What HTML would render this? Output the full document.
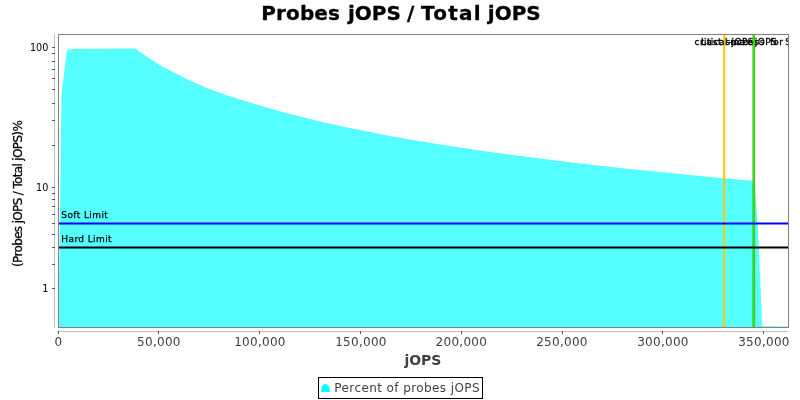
<!DOCTYPE html>
<html><head><meta charset="utf-8"><title>Probes jOPS / Total jOPS</title>
<style>html,body{margin:0;padding:0;background:#fff;}svg{display:block}</style></head>
<body>
<svg width="800" height="400" viewBox="0 0 800 400" font-family="'DejaVu Sans','Liberation Sans',sans-serif">
<rect x="0" y="0" width="800" height="400" fill="#fff"/>
<g font-size="20" font-weight="bold" fill="#000" stroke="#000" stroke-width="0.3"><text x="261.2" y="20" letter-spacing="0.15">Probes</text><text x="348.0" y="20" letter-spacing="0">jOPS</text><text x="407" y="20">/</text><text x="421" y="20" letter-spacing="1.25">Total</text><text x="487.8" y="20" letter-spacing="0">jOPS</text></g>
<clipPath id="cp"><rect x="58.5" y="34.5" width="730.0" height="293.0"/></clipPath>
<g clip-path="url(#cp)">
<polygon points="58.50,327.50 61.50,95.00 66.90,49.75 73.75,49.10 135.25,48.40 151.00,59.50 163.00,67.00 187.00,79.30 205.00,87.25 223.00,94.00 240.00,99.60 250.00,102.52 260.00,105.61 270.00,108.56 280.00,111.37 290.00,114.05 300.00,116.62 310.00,119.09 320.00,121.46 330.00,123.74 340.00,125.94 350.00,128.07 360.00,130.12 370.00,132.10 380.00,134.02 390.00,135.88 400.00,137.69 410.00,139.45 420.00,141.15 430.00,142.81 440.00,144.43 450.00,146.00 460.00,147.53 470.00,149.03 480.00,150.49 490.00,151.91 500.00,153.31 510.00,154.67 520.00,156.00 530.00,157.30 540.00,158.58 550.00,159.83 560.00,161.05 570.00,162.25 580.00,163.43 590.00,164.59 600.00,165.72 610.00,166.83 620.00,167.92 630.00,169.00 640.00,170.05 650.00,171.09 660.00,172.11 670.00,173.11 680.00,174.10 690.00,175.07 700.00,176.02 710.00,176.96 720.00,177.89 730.00,178.80 740.00,179.70 750.00,180.59 754.30,181.00 757.90,226.00 762.20,326.30 788.50,326.60 788.50,327.50" fill="#55ffff"/>
<rect x="723.2" y="34.5" width="2" height="293.0" fill="#ffc800"/>
<text x="724.2" y="44.8" font-size="9" text-anchor="middle" fill="#000" stroke="#000" stroke-width="0.3" letter-spacing="0.4">critical-jOPS</text>
<text y="44.8" font-size="9" fill="#000" stroke="#000" stroke-width="0.3" x="701 706.3 712.7 718 722.3 725.5 731 737.3 742.7 748 754.3 759.7 765 770 773.3 779.3 782 785.2 791 796">Last success for SLA</text>
<text x="753.7" y="44.8" font-size="9" text-anchor="middle" fill="#000" stroke="#000" stroke-width="0.3" letter-spacing="0.4">max-jOPS</text>
<rect x="752" y="34.5" width="1" height="293.0" fill="#758a00" fill-opacity="0.47"/>
<rect x="753" y="34.5" width="1" height="293.0" fill="#00ff00"/>
<rect x="754" y="34.5" width="1" height="293.0" fill="#50be1e"/>
<rect x="755" y="34.5" width="1" height="293.0" fill="#50be1e" fill-opacity="0.12"/>
<line x1="58.5" x2="788.5" y1="223.5" y2="223.5" stroke="#0000ff" stroke-width="2"/>
<line x1="58.5" x2="788.5" y1="247.5" y2="247.5" stroke="#000" stroke-width="2"/>
<text x="61.3" y="217.8" font-size="9" fill="#000" stroke="#000" stroke-width="0.25" letter-spacing="0.4">Soft Limit</text>
<text x="61.3" y="241.8" font-size="9" fill="#000" stroke="#000" stroke-width="0.25" letter-spacing="0.4">Hard Limit</text>
</g>
<rect x="58.5" y="34.5" width="730.0" height="293.0" fill="none" stroke="#808080" stroke-width="1"/>
<line x1="54.5" x2="54.5" y1="34.5" y2="327.5" stroke="#808080" stroke-width="0.5"/>
<line x1="58.5" x2="788.5" y1="331.5" y2="331.5" stroke="#808080" stroke-width="0.5"/>
<line x1="52" x2="55" y1="47.5" y2="47.5" stroke="#555" stroke-width="1"/>
<line x1="52" x2="55" y1="53.5" y2="53.5" stroke="#555" stroke-width="1"/>
<line x1="52" x2="55" y1="61.5" y2="61.5" stroke="#555" stroke-width="1"/>
<line x1="52" x2="55" y1="69.5" y2="69.5" stroke="#555" stroke-width="1"/>
<line x1="52" x2="55" y1="78.5" y2="78.5" stroke="#555" stroke-width="1"/>
<line x1="52" x2="55" y1="89.5" y2="89.5" stroke="#555" stroke-width="1"/>
<line x1="52" x2="55" y1="103.5" y2="103.5" stroke="#555" stroke-width="1"/>
<line x1="52" x2="55" y1="120.5" y2="120.5" stroke="#555" stroke-width="1"/>
<line x1="52" x2="55" y1="145.5" y2="145.5" stroke="#555" stroke-width="1"/>
<line x1="52" x2="55" y1="187.5" y2="187.5" stroke="#555" stroke-width="1"/>
<line x1="52" x2="55" y1="193.5" y2="193.5" stroke="#555" stroke-width="1"/>
<line x1="52" x2="55" y1="199.5" y2="199.5" stroke="#555" stroke-width="1"/>
<line x1="52" x2="55" y1="206.5" y2="206.5" stroke="#555" stroke-width="1"/>
<line x1="52" x2="55" y1="214.5" y2="214.5" stroke="#555" stroke-width="1"/>
<line x1="52" x2="55" y1="223.5" y2="223.5" stroke="#555" stroke-width="1"/>
<line x1="52" x2="55" y1="234.5" y2="234.5" stroke="#555" stroke-width="1"/>
<line x1="52" x2="55" y1="247.5" y2="247.5" stroke="#555" stroke-width="1"/>
<line x1="52" x2="55" y1="264.5" y2="264.5" stroke="#555" stroke-width="1"/>
<line x1="52" x2="55" y1="288.5" y2="288.5" stroke="#555" stroke-width="1"/>
<text x="48.3" y="51.4" font-size="9.6" text-anchor="end" fill="#000">100</text>
<text x="48.3" y="191.4" font-size="9.6" text-anchor="end" fill="#000">10</text>
<text x="48.3" y="292.4" font-size="9.6" text-anchor="end" fill="#000">1</text>
<line x1="58.5" x2="58.5" y1="331" y2="334" stroke="#555" stroke-width="1"/>
<text x="58.40" y="346" font-size="12" text-anchor="middle" fill="#404040" letter-spacing="0.28">0</text>
<line x1="158.5" x2="158.5" y1="331" y2="334" stroke="#555" stroke-width="1"/>
<text x="158.95" y="346" font-size="12" text-anchor="middle" fill="#404040" letter-spacing="0.28">50,000</text>
<line x1="259.5" x2="259.5" y1="331" y2="334" stroke="#555" stroke-width="1"/>
<text x="259.95" y="346" font-size="12" text-anchor="middle" fill="#404040" letter-spacing="0.28">100,000</text>
<line x1="360.5" x2="360.5" y1="331" y2="334" stroke="#555" stroke-width="1"/>
<text x="360.95" y="346" font-size="12" text-anchor="middle" fill="#404040" letter-spacing="0.28">150,000</text>
<line x1="461.5" x2="461.5" y1="331" y2="334" stroke="#555" stroke-width="1"/>
<text x="461.35" y="346" font-size="12" text-anchor="middle" fill="#404040" letter-spacing="0.28">200,000</text>
<line x1="562.5" x2="562.5" y1="331" y2="334" stroke="#555" stroke-width="1"/>
<text x="561.95" y="346" font-size="12" text-anchor="middle" fill="#404040" letter-spacing="0.28">250,000</text>
<line x1="662.5" x2="662.5" y1="331" y2="334" stroke="#555" stroke-width="1"/>
<text x="662.95" y="346" font-size="12" text-anchor="middle" fill="#404040" letter-spacing="0.28">300,000</text>
<line x1="763.5" x2="763.5" y1="331" y2="334" stroke="#555" stroke-width="1"/>
<text x="763.95" y="346" font-size="12" text-anchor="middle" fill="#404040" letter-spacing="0.28">350,000</text>
<text x="422.9" y="364.8" font-size="14" font-weight="bold" text-anchor="middle" fill="#404040">jOPS</text>
<text transform="translate(22.4,193.9) rotate(-90)" font-size="12" text-anchor="middle" fill="#000" stroke="#000" stroke-width="0.25" letter-spacing="-0.65">(Probes jOPS / Total jOPS)%</text>
<rect x="318.5" y="377.5" width="164" height="21" fill="#fff" stroke="#000" stroke-width="1"/>
<polygon points="325.5,383.6 329.1,385.9 329.8,392 321.2,392 321.9,385.9" fill="#00ffff"/>
<text x="334.3" y="391.6" font-size="12" fill="#404040" letter-spacing="0.41">Percent of probes jOPS</text>
</svg>
</body></html>
